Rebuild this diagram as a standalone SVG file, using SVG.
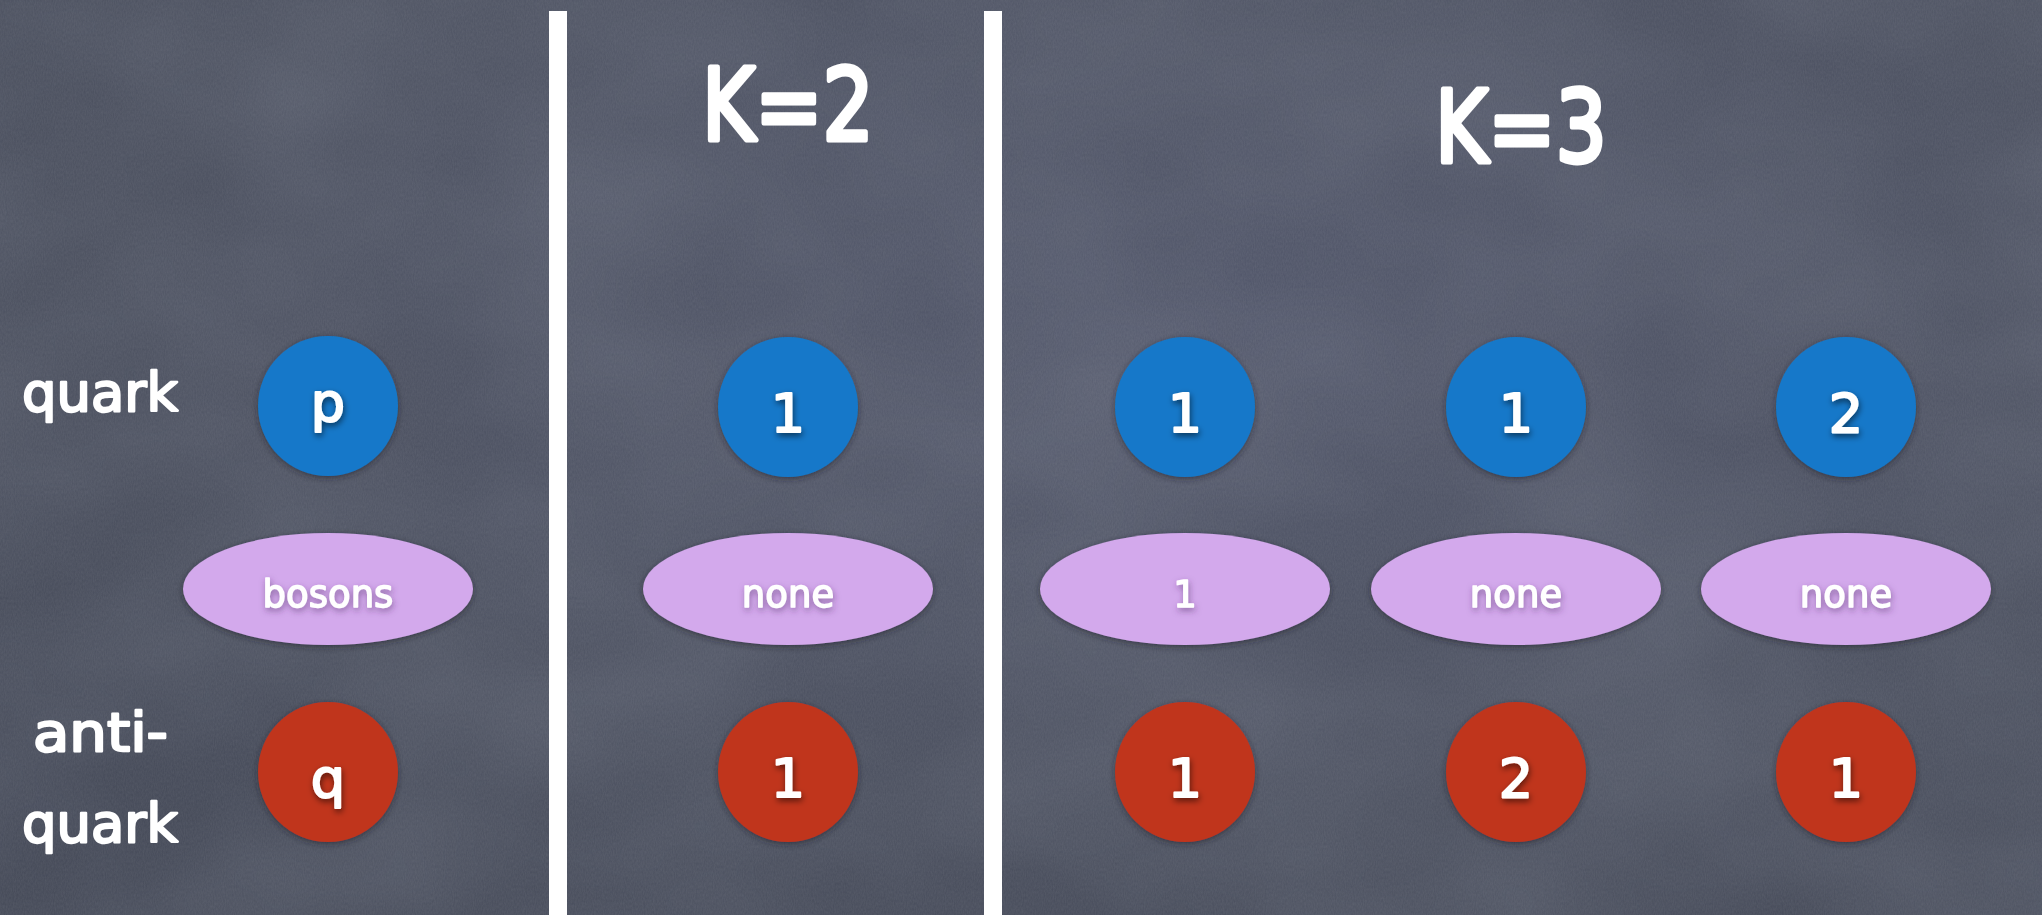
<svg xmlns="http://www.w3.org/2000/svg" width="2042" height="915" viewBox="0 0 2042 915">
  <defs>
    <style>
      .t{font-family:"DejaVu Sans","Liberation Sans",sans-serif;fill:#fff;stroke:#fff;stroke-linejoin:round}
      .head{font-size:100px;stroke-width:5}
      .side{font-size:54px;stroke-width:2.4}
      .num{font-size:54px;stroke-width:2;text-anchor:middle;filter:url(#textShadow)}
      .small{font-size:37px;stroke-width:1.4;text-anchor:middle;filter:url(#textShadowSoft)}
      .quark{fill:#1378C9;filter:url(#dotShadow)}
      .anti{fill:#C0341F;filter:url(#dotShadow)}
      .boson{fill:#D3A9EC;filter:url(#dotShadow)}
      .divider{fill:#fff}
    </style>
    <radialGradient id="board" cx="0.6" cy="0.35" r="0.9">
      <stop offset="0" stop-color="#51566A"/>
      <stop offset="0.6" stop-color="#4A4F5E"/>
      <stop offset="1" stop-color="#404553"/>
    </radialGradient>
    <filter id="grain" x="0" y="0" width="100%" height="100%">
      <feTurbulence type="fractalNoise" baseFrequency="0.9 0.35" numOctaves="2" seed="7"/>
      <feColorMatrix type="matrix" values="0 0 0 0 1  0 0 0 0 1  0 0 0 0 1  0 0 0 0.08 0"/>
    </filter>
    <filter id="clouds" x="0" y="0" width="100%" height="100%">
      <feTurbulence type="fractalNoise" baseFrequency="0.004 0.006" numOctaves="3" seed="2"/>
      <feColorMatrix type="matrix" values="0 0 0 0 0.2  0 0 0 0 0.22  0 0 0 0 0.28  0 0 0 0.4 -0.1"/>
    </filter>
    <filter id="dotShadow" x="-20%" y="-20%" width="140%" height="150%">
      <feDropShadow dx="0" dy="2" stdDeviation="3" flood-color="#1a1d26" flood-opacity="0.55"/>
    </filter>
    <filter id="textShadow" x="-40%" y="-40%" width="180%" height="180%">
      <feDropShadow dx="1" dy="3" stdDeviation="3" flood-color="#000" flood-opacity="0.55"/>
    </filter>
    <filter id="textShadowSoft" x="-40%" y="-40%" width="180%" height="180%">
      <feDropShadow dx="1" dy="3" stdDeviation="3" flood-color="#4a2a60" flood-opacity="0.5"/>
    </filter>
  </defs>

  <!-- chalkboard -->
  <rect width="2042" height="915" fill="url(#board)"/>
  <rect width="2042" height="915" filter="url(#clouds)"/>
  <rect width="2042" height="915" filter="url(#grain)"/>

  <!-- column dividers -->
  <g id="dividers">
    <rect class="divider" x="549" y="11" width="18" height="904"/>
    <rect class="divider" x="984" y="11" width="18" height="904"/>
  </g>

  <!-- headings and row labels -->
  <g id="headings">
    <text class="t head" x="702" y="140" textLength="172" lengthAdjust="spacingAndGlyphs">K=2</text>
    <text class="t head" x="1435" y="162" textLength="172" lengthAdjust="spacingAndGlyphs">K=3</text>
  </g>
  <g id="row-labels">
    <text class="t side" x="22" y="411" textLength="156" lengthAdjust="spacingAndGlyphs">quark</text>
    <text class="t side" x="33" y="751" textLength="135" lengthAdjust="spacingAndGlyphs">anti-</text>
    <text class="t side" x="22" y="842" textLength="156" lengthAdjust="spacingAndGlyphs">quark</text>
  </g>

  <!-- generic column -->
  <g id="quark-p"><circle class="quark" cx="328" cy="406" r="70"/><text class="t num" x="328" y="421">p</text></g>
  <g id="boson-generic"><ellipse class="boson" cx="328" cy="589" rx="145" ry="56"/><text class="t small" x="328" y="607">bosons</text></g>
  <g id="antiquark-q"><circle class="anti" cx="328" cy="772" r="70"/><text class="t num" x="328" y="797">q</text></g>

  <!-- K=2 column -->
  <g id="k2-quark"><circle class="quark" cx="788" cy="407" r="70"/><text class="t num" x="788" y="432">1</text></g>
  <g id="k2-boson"><ellipse class="boson" cx="788" cy="589" rx="145" ry="56"/><text class="t small" x="788" y="607">none</text></g>
  <g id="k2-antiquark"><circle class="anti" cx="788" cy="772" r="70"/><text class="t num" x="788" y="797">1</text></g>

  <!-- K=3, first case -->
  <g id="k3a-quark"><circle class="quark" cx="1185" cy="407" r="70"/><text class="t num" x="1185" y="432">1</text></g>
  <g id="k3a-boson"><ellipse class="boson" cx="1185" cy="589" rx="145" ry="56"/><text class="t small" x="1185" y="607">1</text></g>
  <g id="k3a-antiquark"><circle class="anti" cx="1185" cy="772" r="70"/><text class="t num" x="1185" y="797">1</text></g>

  <!-- K=3, second case -->
  <g id="k3b-quark"><circle class="quark" cx="1516" cy="407" r="70"/><text class="t num" x="1516" y="432">1</text></g>
  <g id="k3b-boson"><ellipse class="boson" cx="1516" cy="589" rx="145" ry="56"/><text class="t small" x="1516" y="607">none</text></g>
  <g id="k3b-antiquark"><circle class="anti" cx="1516" cy="772" r="70"/><text class="t num" x="1516" y="797">2</text></g>

  <!-- K=3, third case -->
  <g id="k3c-quark"><circle class="quark" cx="1846" cy="407" r="70"/><text class="t num" x="1846" y="432">2</text></g>
  <g id="k3c-boson"><ellipse class="boson" cx="1846" cy="589" rx="145" ry="56"/><text class="t small" x="1846" y="607">none</text></g>
  <g id="k3c-antiquark"><circle class="anti" cx="1846" cy="772" r="70"/><text class="t num" x="1846" y="797">1</text></g>
</svg>
